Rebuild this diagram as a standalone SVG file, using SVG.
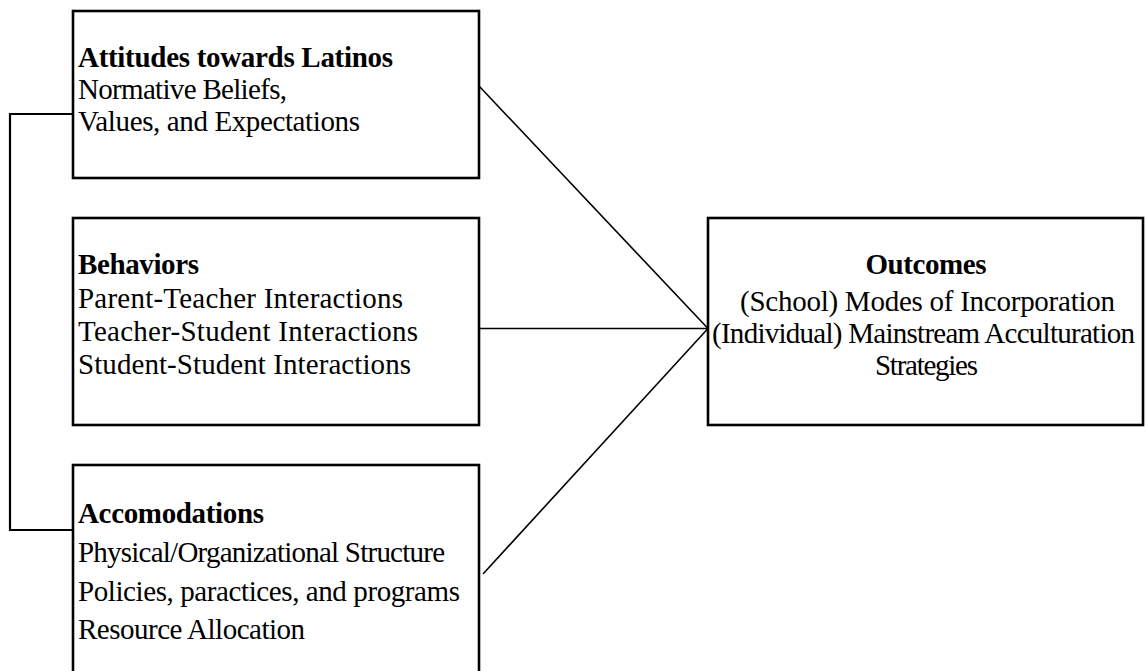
<svg xmlns="http://www.w3.org/2000/svg" width="1146" height="671" viewBox="0 0 1146 671">
<style>
.box{fill:#fff;stroke:#000;stroke-width:2.6}
.t{font-family:'Liberation Serif','Times New Roman',Tinos,Times,serif;font-size:29px;fill:#000}
.b{font-weight:bold}
.c{text-anchor:middle}
.con{fill:none;stroke:#000;stroke-width:1.6}
.br{fill:none;stroke:#000;stroke-width:2.2}
</style>
<rect width="1146" height="671" fill="#fff"/>
<g id="connectors">
<polyline class="br" points="73,114 10,114 10,530 73,530"/>
<line class="con" x1="479" y1="86" x2="708" y2="328.5"/>
<line class="con" x1="479" y1="328.5" x2="708" y2="328.5"/>
<line class="con" x1="483" y1="574" x2="708" y2="328.5"/>
</g>
<g id="attitudes">
<rect class="box" x="73" y="11" width="406" height="167"/>
<text class="t b" x="78" y="67" textLength="315" lengthAdjust="spacing">Attitudes towards Latinos</text>
<text class="t" x="78" y="99" textLength="209" lengthAdjust="spacing">Normative Beliefs,</text>
<text class="t" x="78" y="131" textLength="282" lengthAdjust="spacing">Values, and Expectations</text>
</g>
<g id="behaviors">
<rect class="box" x="73" y="218" width="406" height="207"/>
<text class="t b" x="78" y="274" textLength="121" lengthAdjust="spacing">Behaviors</text>
<text class="t" x="78" y="308" textLength="325" lengthAdjust="spacing">Parent-Teacher Interactions</text>
<text class="t" x="78" y="341" textLength="340" lengthAdjust="spacing">Teacher-Student Interactions</text>
<text class="t" x="78" y="374" textLength="333" lengthAdjust="spacing">Student-Student Interactions</text>
</g>
<g id="accomodations">
<rect class="box" x="73" y="465" width="406" height="220"/>
<text class="t b" x="78" y="523" textLength="186" lengthAdjust="spacing">Accomodations</text>
<text class="t" x="78" y="562" textLength="367" lengthAdjust="spacing">Physical/Organizational Structure</text>
<text class="t" x="78" y="601" textLength="382" lengthAdjust="spacing">Policies, paractices, and programs</text>
<text class="t" x="78" y="639" textLength="227" lengthAdjust="spacing">Resource Allocation</text>
</g>
<g id="outcomes">
<rect class="box" x="708" y="218" width="435" height="207"/>
<text class="t b c" x="926" y="274" textLength="121" lengthAdjust="spacing">Outcomes</text>
<text class="t c" x="927.5" y="311" textLength="375" lengthAdjust="spacing">(School) Modes of Incorporation</text>
<text class="t c" x="923.5" y="343" textLength="423" lengthAdjust="spacing">(Individual) Mainstream Acculturation</text>
<text class="t c" x="926.5" y="375" textLength="103" lengthAdjust="spacing">Strategies</text>
</g>
</svg>
